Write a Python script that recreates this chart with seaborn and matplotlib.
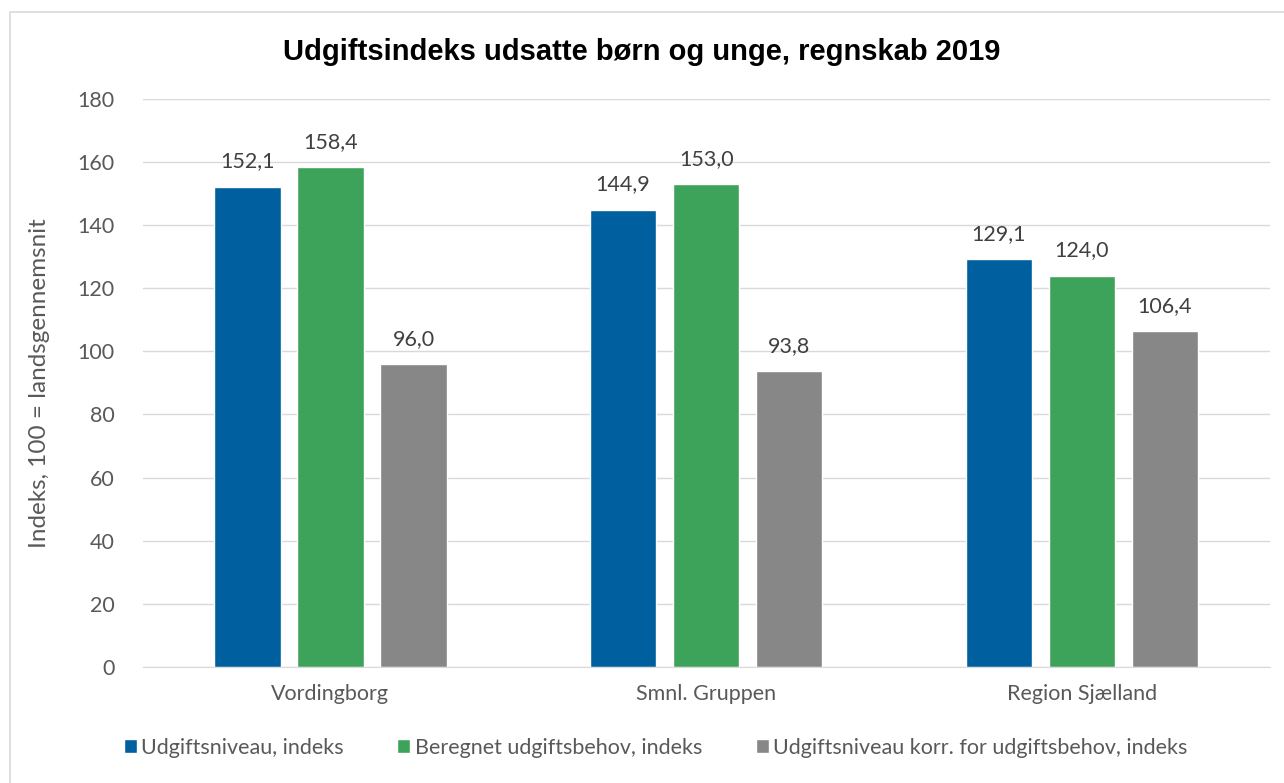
import pandas as pd
import matplotlib.pyplot as plt
import seaborn as sns
from matplotlib.patches import Rectangle

# data
categories = ['Vordingborg', 'Smnl. Gruppen', 'Region Sjælland']
series = ['Udgiftsniveau, indeks', 'Beregnet udgiftsbehov, indeks',
          'Udgiftsniveau korr. for udgiftsbehov, indeks']
udgiftsniveau = [152.1, 144.9, 129.1]
beregnet_behov = [158.4, 153.0, 124.0]
korrigeret = [96.0, 93.8, 106.4]
colors = ['#005F9E', '#3DA35A', '#878787']

df = pd.DataFrame({
    'Kategori': categories * 3,
    'Serie': [series[0]] * 3 + [series[1]] * 3 + [series[2]] * 3,
    'Indeks': udgiftsniveau + beregnet_behov + korrigeret,
})

sns.set_style('white')
plt.rcParams['font.family'] = ['Lato', 'DejaVu Sans']

fig = plt.figure(figsize=(12.84, 7.83), dpi=100)
ax = fig.add_axes([0.111, 0.148, 0.878, 0.726])

sns.barplot(data=df, x='Kategori', y='Indeks', hue='Serie', palette=colors,
            width=0.663, gap=0.2, ax=ax, legend=True, saturation=1)

for cont in ax.containers:
    ax.bar_label(cont, labels=[f'{v:.1f}'.replace('.', ',') for v in cont.datavalues],
                 padding=11, fontsize=15.5, color='#404040')

ax.set_ylim(0, 180)
ax.set_yticks(range(0, 181, 20))
ax.set_xlim(-0.5, 2.5)
ax.yaxis.grid(True, color='#d9d9d9', linewidth=1)
ax.set_axisbelow(True)
for s in ['top', 'right', 'left']:
    ax.spines[s].set_visible(False)
ax.spines['bottom'].set_color('#d9d9d9')
ax.tick_params(axis='y', length=0, labelsize=15.5, labelcolor='#595959', pad=20)
ax.tick_params(axis='x', length=0, labelsize=15.5, labelcolor='#595959', pad=12)
ax.set_xlabel('')
ax.set_ylabel('Indeks, 100 = landsgennemsnit', fontsize=17.5, color='#595959', labelpad=20)

ax.legend(loc='center', bbox_to_anchor=(0.455, -0.142), ncol=3, frameon=False,
          fontsize=15.5, handlelength=0.6, handleheight=0.6, handletextpad=0.2,
          columnspacing=2.5, labelcolor='#595959')

fig.text(0.5, 0.934, 'Udgiftsindeks udsatte børn og unge, regnskab 2019',
         ha='center', va='center', fontsize=21, fontweight='bold',
         family=['Liberation Sans', 'DejaVu Sans'], color='black')

# outer chart border
fig.patches.append(Rectangle((10 / 1284, -0.01), 1.1, 1 - 12 / 783 + 0.01,
                             transform=fig.transFigure, fill=False,
                             edgecolor='#d9d9d9', linewidth=1.2))

fig.savefig('out.png', dpi=100)
